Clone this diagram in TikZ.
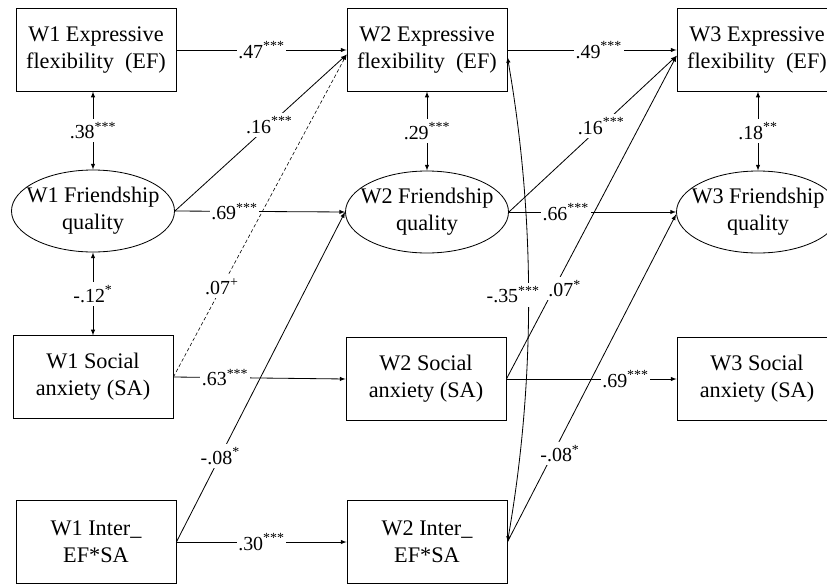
\documentclass[tikz,border=0pt]{standalone}
\usepackage{fontspec}
\setmainfont{Liberation Serif}
\usepackage{tikz}
\usetikzlibrary{shapes.geometric, arrows}

\begin{document}
\begin{tikzpicture}[x=0.03cm, y=-0.03cm, >=latex, line width=0.7pt,
    obsbox/.style={draw, rectangle, minimum width=4.8cm, minimum height=2.47cm, align=center, font=\fontsize{19}{23}\selectfont},
    latoval/.style={draw, ellipse, inner sep=0pt, minimum width=4.89cm, minimum height=2.46cm, align=center, font=\fontsize{19}{23}\selectfont},
    coef/.style={fill=white, inner xsep=1.5pt, inner ysep=3pt, font=\fontsize{17}{20}\selectfont}]
    \clip (0,0) rectangle (827,584);

    % Wave 1 variables
    \node[obsbox] (w1ef) at (96,50) {W1 Expressive\\flexibility~~(EF)};
    \node[latoval] (w1fq) at (93,211) {\makebox[0pt]{W1 Friendship}\\quality};
    \node[obsbox] (w1sa) at (93,377) {W1 Social\\anxiety (SA)};
    \node[obsbox] (w1int) at (96,542) {W1 Inter\_\\EF*SA};

    % Wave 2 variables
    \node[obsbox] (w2ef) at (427,50) {W2 Expressive\\flexibility~~(EF)};
    \node[latoval] (w2fq) at (427,212) {\makebox[0pt]{W2 Friendship}\\quality};
    \node[obsbox] (w2sa) at (426,379) {W2 Social\\anxiety (SA)};
    \node[obsbox] (w2int) at (427,542) {W2 Inter\_\\EF*SA};

    % Wave 3 variables (cut off at the right edge)
    \node[obsbox] (w3ef) at (757,50) {W3 Expressive\\flexibility~~(EF)};
    \node[latoval] (w3fq) at (758,212) {\makebox[0pt]{W3 Friendship}\\quality};
    \node[obsbox] (w3sa) at (757,379) {W3 Social\\anxiety (SA)};

    % Within-wave correlations
    \draw[<->] (w1ef.south -| w1fq.north) -- node[coef] {.38\textsuperscript{***}} (w1fq.north);
    \draw[<->] (w1fq.south) -- node[coef] {-.12\textsuperscript{*}} (w1fq.south |- w1sa.north);
    \draw[<->] (w2ef.south -| w2fq.north) -- node[coef] {.29\textsuperscript{***}} (w2fq.north);
    \draw[<->] (w3ef.south -| w3fq.north) -- node[coef] {.18\textsuperscript{**}} (w3fq.north);

    % Paths from wave 1 to wave 2
    \draw[->] (w1ef.east) -- node[coef, pos=0.5] {.47\textsuperscript{***}} (w2ef.west);
    \draw[->] (w1fq.east) -- node[coef, pos=0.55] {.16\textsuperscript{***}} ([yshift=-4pt]w2ef.west);
    \draw[->] (w1fq.east) -- node[coef, pos=0.35] {.69\textsuperscript{***}} (w2fq.west);
    \draw[->, densely dashed, line width=0.5pt] (w1sa.east) -- node[coef, pos=0.28] {.07\textsuperscript{+}} ([yshift=-4pt]w2ef.west);
    \draw[->] (w1sa.east) -- node[coef, pos=0.3] {.63\textsuperscript{***}} (w2sa.west);
    \draw[->] (w1int.east) -- node[coef, pos=0.26] {-.08\textsuperscript{*}} (w2fq.west);
    \draw[->] (w1int.east) -- node[coef, pos=0.5] {.30\textsuperscript{***}} (w2int.west);

    % Paths from wave 2 to wave 3
    \draw[->] (w2ef.east) -- node[coef, pos=0.54] {.49\textsuperscript{***}} (w3ef.west);
    \draw[->] (w2fq.east) -- node[coef, pos=0.55] {.16\textsuperscript{***}} ([yshift=-5pt]w3ef.west);
    \draw[->] (w2fq.east) -- node[coef, pos=0.34] {.66\textsuperscript{***}} (w3fq.west);
    \draw[->] (w2sa.east) -- node[coef, pos=0.28, xshift=9pt] {.07\textsuperscript{*}} ([yshift=-5pt]w3ef.west);
    \draw[->] (w2sa.east) -- node[coef, pos=0.7] {.69\textsuperscript{***}} (w3sa.west);
    \draw[->] (w2int.east) -- node[coef, pos=0.27, xshift=6pt] {-.08\textsuperscript{*}} ([yshift=-2pt]w3fq.west);

    % Wave 2 correlation between EF and the interaction
    \draw[<->] ([yshift=-6pt]w2ef.east) .. controls +(28,160) and +(28,-160) .. (w2int.east)
        node[coef, pos=0.49, xshift=-13pt] {-.35\textsuperscript{***}};
\end{tikzpicture}
\end{document}
